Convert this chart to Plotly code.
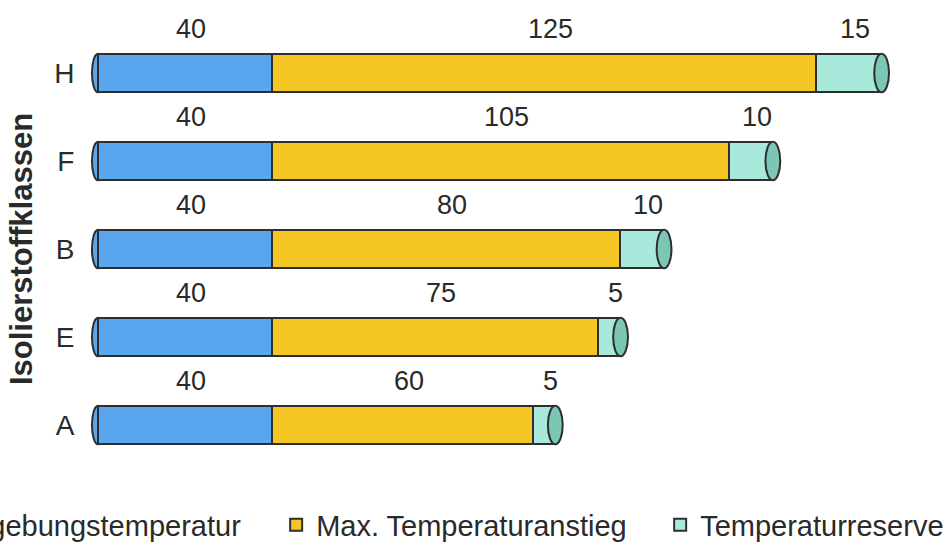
import plotly.graph_objects as go

categories = ["A", "E", "B", "F", "H"]
umgebung = [40, 40, 40, 40, 40]
anstieg = [60, 75, 80, 105, 125]
reserve = [5, 5, 10, 10, 15]

series_names = ["Umgebungstemperatur", "Max. Temperaturanstieg", "Temperaturreserve"]
colors = ["#5AA6EE", "#F4C624", "#A9E9DB"]
cap_color = "#7CC6B6"
outline = "#2E2E2E"
FONT = "Liberation Sans, Arial, sans-serif"
TXT = "#2a2a2a"

fig = go.Figure()
series = [umgebung, anstieg, reserve]
legend_ids = ["legend", "legend2", "legend3"]
for name, vals, col, lg in zip(series_names, series, colors, legend_ids):
    fig.add_trace(go.Bar(
        y=categories, x=vals, name=name, orientation="h", legend=lg,
        marker=dict(color=col, line=dict(color=outline, width=2)),
    ))

# value labels above each segment
for i, cat in enumerate(categories):
    start = 0
    for vals in series:
        v = vals[i]
        fig.add_annotation(x=start + v / 2, y=cat, text=str(v), showarrow=False,
                           yshift=44, xshift=6,
                           font=dict(family=FONT, size=27, color=TXT))
        start += v

# cylinder end caps
for i, cat in enumerate(categories):
    total = umgebung[i] + anstieg[i] + reserve[i]
    fig.add_shape(type="circle", xref="x", yref="y",
                  x0=total - 1.6, x1=total + 1.8, y0=i - 0.22, y1=i + 0.22,
                  fillcolor=cap_color, line=dict(color=outline, width=2), layer="above")
    fig.add_shape(type="circle", xref="x", yref="y",
                  x0=-1.4, x1=1.4, y0=i - 0.22, y1=i + 0.22,
                  fillcolor=colors[0], line=dict(color=outline, width=2), layer="below")

leg_common = dict(orientation="h", xanchor="left", y=-0.127, yanchor="middle",
                  font=dict(family=FONT, size=29, color=TXT),
                  bgcolor="rgba(0,0,0,0)", itemwidth=30)

fig.update_layout(
    width=952, height=542,
    barmode="stack", bargap=0.56,
    plot_bgcolor="white", paper_bgcolor="white",
    margin=dict(l=85, r=6, t=29, b=73, autoexpand=False),
    font=dict(family=FONT, color=TXT),
    xaxis=dict(range=[-3, 194.9], visible=False, showgrid=False, zeroline=False),
    yaxis=dict(
        showgrid=False, zeroline=False, showline=False,
        ticks="outside", ticklen=4, tickcolor="white",
        tickfont=dict(family=FONT, size=28, color=TXT),
        title=dict(text="<b>Isolierstoffklassen</b>", standoff=12,
                   font=dict(family=FONT, size=31, color=TXT)),
        range=[-0.5, 4.5],
    ),
    legend=dict(x=-0.21, **leg_common),
    legend2=dict(x=0.222, **leg_common),
    legend3=dict(x=0.668, **leg_common),
    showlegend=True,
)

fig.write_html("out.html", config={"displayModeBar": False},
               post_script="document.body.style.margin='0';")
